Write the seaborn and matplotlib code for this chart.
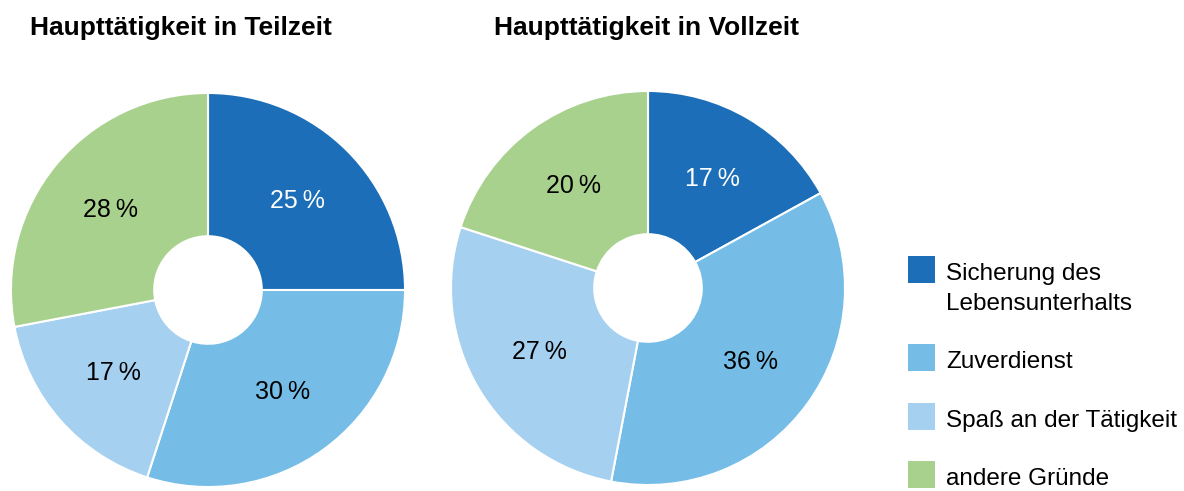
import matplotlib
matplotlib.use("Agg")
import matplotlib.pyplot as plt
from matplotlib.patches import Rectangle
import seaborn as sns

categories = ["Sicherung des\nLebensunterhalts", "Zuverdienst", "Spaß an der Tätigkeit", "andere Gründe"]
teilzeit = [25, 30, 17, 28]
vollzeit = [17, 36, 27, 20]
titles = ["Haupttätigkeit in Teilzeit", "Haupttätigkeit in Vollzeit"]
colors = ["#1B6EB7", "#75BDE7", "#A6D0F0", "#A9D18E"]

sns.set_theme(style="white")
plt.rcParams["font.family"] = ["Liberation Sans", "DejaVu Sans"]
plt.rcParams["text.color"] = "black"

W, H = 1184, 491
fig = plt.figure(figsize=(W / 100, H / 100), dpi=100)

def px_axes(left, top, size):
    return fig.add_axes([left / W, 1 - (top + size) / H, size / W, size / H])

def donut(ax, values):
    wedges, texts, autotexts = ax.pie(
        values, colors=colors, startangle=90, counterclock=False,
        autopct=lambda p: f"{p:.0f}\u2009%", pctdistance=0.64,
        wedgeprops=dict(width=0.727, edgecolor="white", linewidth=1.5),
        textprops=dict(fontsize=18, color="black"),
    )
    autotexts[0].set_color("white")
    ax.set_xlim(-1.005, 1.005)
    ax.set_ylim(-1.005, 1.005)
    ax.set_aspect("equal")
    ax.axis("off")

ax1 = px_axes(10, 92, 396)
donut(ax1, teilzeit)
ax2 = px_axes(450, 90, 396)
donut(ax2, vollzeit)

fig.text(30 / W, 1 - 28 / H, titles[0], fontsize=19, fontweight="bold", va="center", ha="left")
fig.text(494 / W, 1 - 28 / H, titles[1], fontsize=19, fontweight="bold", va="center", ha="left")

# legend drawn as squares with labels
sq = 27
tops = [256, 344, 403, 461]
for c, lab, t in zip(colors, categories, tops):
    fig.add_artist(Rectangle((908 / W, 1 - (t + sq) / H), sq / W, sq / H,
                             transform=fig.transFigure, facecolor=c, edgecolor="none"))
    fig.text(946 / W, 1 - (t + 7) / H, lab, fontsize=17.5, va="top", ha="left",
             linespacing=1.45)

fig.savefig("out.png", dpi=100, facecolor="white")
